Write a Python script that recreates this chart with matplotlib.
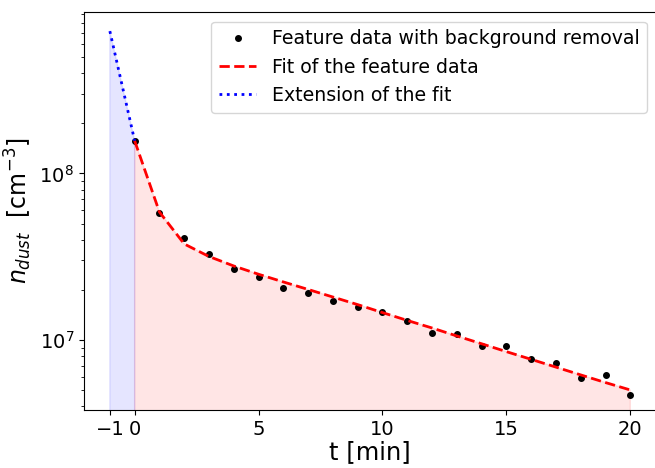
import numpy as np
import matplotlib
matplotlib.use("Agg")
import matplotlib.pyplot as plt

# measured feature data (background removed)
t_data = [0, 1, 2, 3, 4, 5, 6, 7, 8, 9, 10, 11, 12, 13, 14, 15, 16, 17, 18, 19, 20]
n_data = [1.57e8, 5.80e7, 4.07e7, 3.28e7, 2.67e7, 2.39e7, 2.04e7, 1.91e7, 1.72e7,
          1.585e7, 1.466e7, 1.306e7, 1.097e7, 1.091e7, 9.21e6, 9.16e6, 7.72e6,
          7.31e6, 5.89e6, 6.14e6, 4.68e6]

# fit evaluated at the data times
n_fit = [1.57e8, 5.86e7, 3.77e7, 3.17e7, 2.78e7, 2.48e7, 2.23e7, 2.01e7, 1.81e7,
         1.63e7, 1.46e7, 1.31e7, 1.18e7, 1.057e7, 9.49e6, 8.51e6, 7.65e6,
         6.87e6, 6.17e6, 5.55e6, 5.01e6]

# extension of the fit back to t = -1
t_ext = [-1, 0]
n_ext = [7.14e8, 1.57e8]

fig, ax = plt.subplots(figsize=(6.55, 4.68), dpi=100)
fig.subplots_adjust(left=0.128, right=1.002, top=0.974, bottom=0.124)

ax.plot(t_data, n_data, "k.", markersize=8, label="Feature data with background removal")
ax.plot(t_data, n_fit, "r--", linewidth=2, label="Fit of the feature data")
ax.plot(t_ext, n_ext, "b:", linewidth=2, label="Extension of the fit")
ax.fill_between(t_data, n_fit, color="red", alpha=0.1)
ax.fill_between(t_ext, n_ext, color="blue", alpha=0.1)

ax.set_yscale("log")
ax.set_ylim(3.8e6, 9.28e8)
ax.set_xlim(-2.05, 21.05)
ax.set_xticks([-1, 0, 5, 10, 15, 20])
ax.tick_params(labelsize=14)

ax.set_xlabel("t [min]", fontsize=17.5, labelpad=1)
ax.set_ylabel(r"$n_{dust}$  [cm$^{-3}$]", fontsize=17)
ax.legend(loc="upper right", fontsize=13.6)

fig.savefig("out.png", dpi=100)
